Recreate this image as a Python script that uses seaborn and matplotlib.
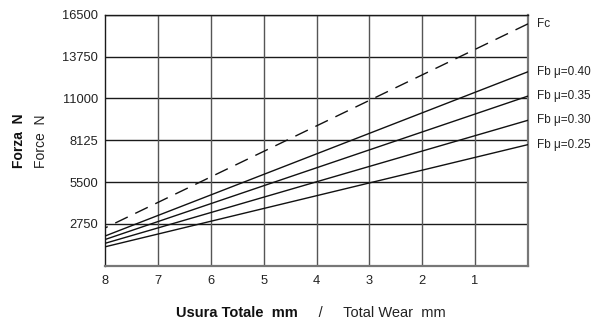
import matplotlib
matplotlib.use("Agg")
import matplotlib.pyplot as plt
import seaborn as sns
import pandas as pd

# Wear values (mm) at the two ends of each straight line
wear = [8, 0]
fc = [2480, 15900]
fb_040 = [1950, 12750]
fb_035 = [1720, 11150]
fb_030 = [1470, 9560]
fb_025 = [1240, 7960]

series_names = ["Fc", "Fb μ=0.40", "Fb μ=0.35", "Fb μ=0.30", "Fb μ=0.25"]
series_values = [fc, fb_040, fb_035, fb_030, fb_025]

x_ticks = [8, 7, 6, 5, 4, 3, 2, 1]
y_ticks = [2750, 5500, 8250, 11000, 13750, 16500]
y_tick_labels = ["2750", "5500", "8125", "11000", "13750", "16500"]

rows = []
for name, vals in zip(series_names, series_values):
    for w, v in zip(wear, vals):
        rows.append({"wear": w, "force": v, "series": name})
df = pd.DataFrame(rows)

sns.set_theme(style="white")
plt.rcParams["font.family"] = ["Liberation Sans", "DejaVu Sans"]

fig = plt.figure(figsize=(6.05, 3.25), dpi=100)
ax = fig.add_axes([105 / 605, 1 - 265.7 / 325, (528 - 105) / 605, (265.7 - 14.7) / 325])

# grid
for yv in y_ticks:
    ax.axhline(yv, color="#1a1a1a", lw=1.0, zorder=1)
for xv in x_ticks[1:]:
    ax.axvline(xv, color="#555555", lw=1.0, zorder=1)

for name in series_names:
    sub = df[df["series"] == name]
    sns.lineplot(data=sub, x="wear", y="force", ax=ax, color="#111111",
                 lw=1.0, zorder=3)
    if name == "Fc":
        ax.lines[-1].set_dashes([10, 6])
    ax.annotate(name, xy=(0, sub["force"].iloc[-1]), xytext=(6.5, 0),
                textcoords="offset points", va="center", ha="left",
                fontsize=8.5, color="#222222", annotation_clip=False)

ax.set_xlim(8, 0)
ax.set_ylim(0, 16500)
ax.set_xticks(x_ticks)
ax.set_xticklabels([str(t) for t in x_ticks])
ax.set_yticks(y_ticks)
ax.set_yticklabels(y_tick_labels)
ax.tick_params(axis="both", length=0, labelsize=9.3, colors="#222222")
ax.tick_params(axis="x", pad=7)
ax.tick_params(axis="y", pad=5)
ax.set_xlabel("")
ax.set_ylabel("")

for side in ["top", "left"]:
    ax.spines[side].set_color("#1a1a1a")
    ax.spines[side].set_linewidth(1.0)
for side in ["bottom", "right"]:
    ax.spines[side].set_color("#777777")
    ax.spines[side].set_linewidth(1.6)

# axis titles (bold Italian, regular English)
fig.text(19 / 605, 1 - 141 / 325, "Forza  N", rotation=90, ha="center", va="center",
         fontsize=10, fontweight="bold", color="#111111")
fig.text(41 / 605, 1 - 141 / 325, "Force  N", rotation=90, ha="center", va="center",
         fontsize=10, color="#222222")

t1 = fig.text(176 / 605, 1 - 313 / 325, "Usura Totale  mm", ha="left", va="center",
              fontsize=10.5, fontweight="bold", color="#111111")
ax.annotate("     /     Total Wear  mm", xy=(1, 0.5), xycoords=t1,
            va="center", ha="left", fontsize=10.5, color="#222222",
            annotation_clip=False)

fig.savefig("out.png", dpi=100)
